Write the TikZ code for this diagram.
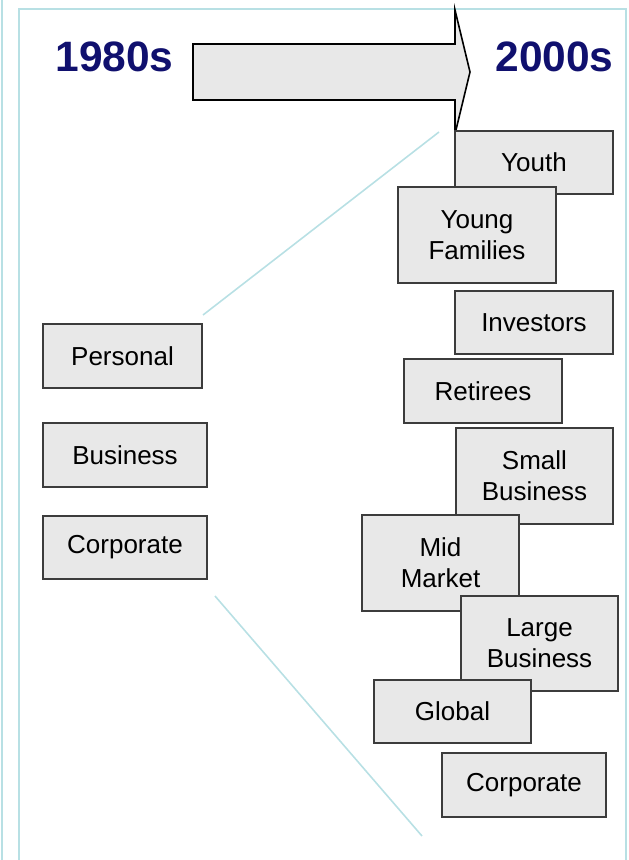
\documentclass[tikz,border=0pt]{standalone}
\usepackage{fontspec}
\setmainfont{Liberation Sans}
\definecolor{navyhead}{RGB}{16,16,110}
\definecolor{boxfill}{RGB}{232,232,232}
\definecolor{boxline}{RGB}{60,60,60}
\definecolor{cyanline}{RGB}{184,224,228}
\tikzset{
  seg/.style={draw=boxline, line width=1.2pt, fill=boxfill, rectangle, inner sep=0pt,
    align=center, font=\fontsize{26}{31}\selectfont},
  head/.style={text=navyhead, font=\fontsize{42.5}{50}\selectfont\bfseries, inner sep=0pt},
  guide/.style={draw=cyanline, line width=1.6pt},
}
\newcommand{\segbox}[6]{% name, x1, y1, x2, y2, text
  \pgfmathsetmacro{\cxx}{(#2+#4)/2}\pgfmathsetmacro{\cyy}{(#3+#5)/2}%
  \pgfmathsetmacro{\ww}{#4-#2}\pgfmathsetmacro{\hh}{#5-#3}%
  \node[seg, minimum width=\ww pt, minimum height=\hh pt] (#1) at (\cxx,\cyy) {#6};}
\begin{document}
\begin{tikzpicture}[x=1pt,y=-1pt]
\useasboundingbox (0,0) rectangle (629,860);
% frame lines
\draw[guide, line width=2pt] (1.5,0) -- (1.5,860);
\draw[guide] (19,860) -- (19,9) -- (626,9) -- (626,860);
% headings
\node[head] (h1) at (114.5,57) {1980s};
\node[head] (h2) at (554.5,57) {2000s};
% arrow
\draw[fill=boxfill, draw=black, line width=1.6pt, line join=miter] (193,44) -- (455,44) -- (455,10) -- (470,72) -- (455,134) -- (455,100) -- (193,100) -- cycle;
% guide lines
\coordinate (ga) at (203,315);
\coordinate (gb) at (439,132);
\coordinate (gc) at (215,596);
\coordinate (gd) at (422,836);
\draw[guide] (ga) -- (gb);
\draw[guide] (gc) -- (gd);
% left boxes
\segbox{personal}{43}{324}{202}{388}{Personal}
\segbox{business}{43}{423}{207}{487}{Business}
\segbox{corpL}{43}{516}{207}{579}{Corporate}
% right boxes
\segbox{youth}{455}{131}{613}{194}{Youth}
\segbox{youngfam}{398}{187}{556}{283}{Young\\Families}
\segbox{investors}{455}{291}{613}{354}{Investors}
\segbox{retirees}{404}{359}{562}{423}{Retirees}
\segbox{smallbus}{456}{428}{613}{524}{Small\\Business}
\segbox{midmkt}{362}{515}{519}{611}{Mid\\Market}
\segbox{largebus}{461}{596}{618}{691}{Large\\Business}
\segbox{global}{374}{680}{531}{743}{Global}
\segbox{corpR}{442}{753}{606}{817}{Corporate}
\end{tikzpicture}
\end{document}
